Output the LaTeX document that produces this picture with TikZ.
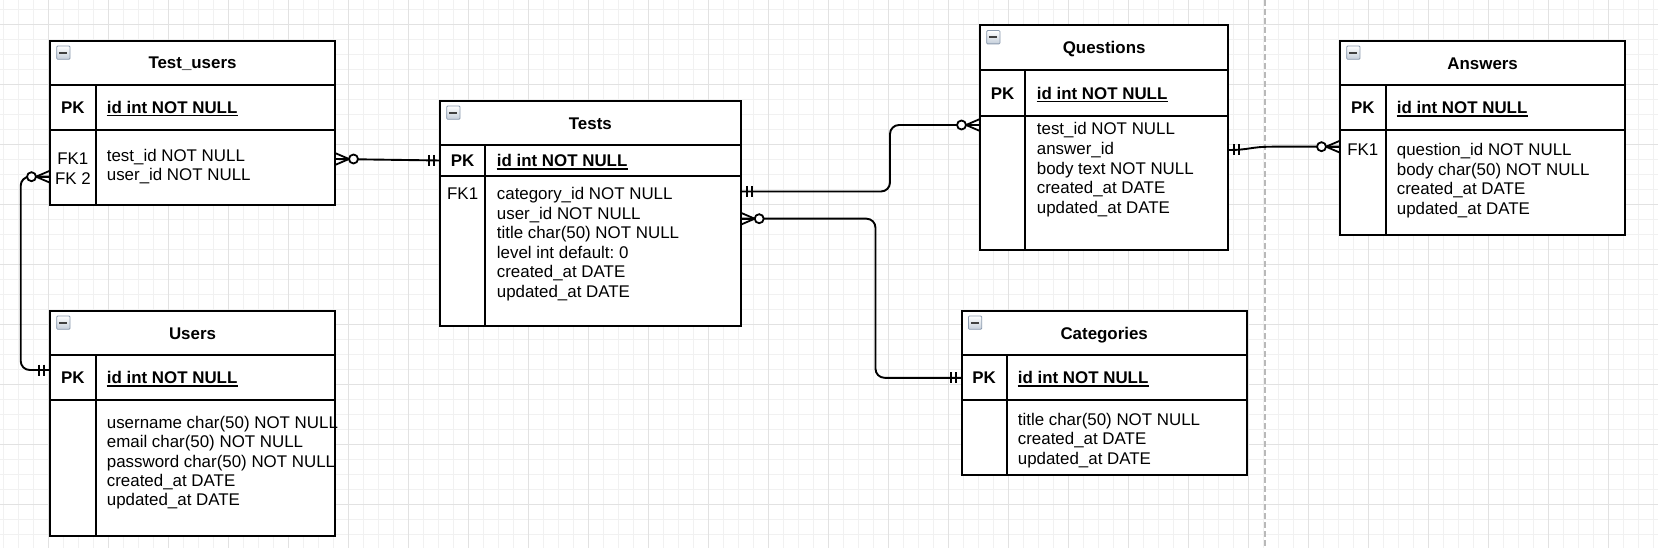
\documentclass[tikz,border=0pt]{standalone}
\usepackage{fontspec}
\setmainfont{Liberation Sans}
\usetikzlibrary{calc}
\frenchspacing
\definecolor{gridminor}{RGB}{241,241,241}
\definecolor{gridmajor}{RGB}{226,226,226}
\definecolor{sepgray}{RGB}{185,185,185}
\definecolor{iconedge}{RGB}{140,155,175}
\definecolor{iconbot}{RGB}{196,206,218}
\newcommand\ff{\fontsize{16.9}{20}\selectfont\frenchspacing}
\tikzset{
  minorgrid/.style={draw=gridminor, line width=1.2pt},
  majorgrid/.style={draw=gridmajor, line width=1.4pt},
  sepdash/.style={draw=sepgray, line width=1.5pt, dash pattern=on 6pt off 3pt},
  tblfill/.style={rectangle, fill=white, draw=none, inner sep=0pt, outer sep=0pt, anchor=north west},
  tline/.style={draw=black, line width=1.8pt},
  ttl/.style={font=\ff\bfseries, anchor=base, inner sep=0pt},
  pklbl/.style={font=\ff\bfseries, anchor=base, inner sep=0pt},
  pkfld/.style={font=\ff\bfseries, anchor=base west, inner sep=0pt},
  fklbl/.style={font=\ff, anchor=base, inner sep=0pt},
  fld/.style={font=\ff, anchor=base west, inner sep=0pt},
  uline/.style={draw=black, line width=1.3pt},
  conn/.style={draw=black, line width=1.9pt, rounded corners=9pt, line join=round},
  mkline/.style={draw=black, line width=1.8pt},
  iconbox/.style={draw=iconedge, line width=0.8pt, top color=white, bottom color=iconbot}
}
% table background node
\newcommand\erbg[5]{%
  \node[tblfill, minimum width={(#4-#2)*1pt}, minimum height={(#5-#3)*1pt}] (#1) at (#2,#3) {};
  \shade[iconbox, rounded corners=1pt] (#2+6.7,#3+5.3) rectangle ++(13.3,13.3);
  \fill[black!75] (#2+9,#3+11) rectangle ++(8.4,1.9);
}
% table lines: L T R B H1 H2 D
\newcommand\erlines[7]{%
  \draw[tline] (#1,#2) rectangle (#3,#4);
  \draw[tline] (#1,#5) -- (#3,#5);
  \draw[tline] (#1,#6) -- (#3,#6);
  \draw[tline] (#7,#5) -- (#7,#4);
}
% primary key row: name, pk-x, id-x, baseline
\newcommand\erpk[4]{%
  \node[pklbl] (#1-pk) at (#2,#4) {PK};
  \node[pkfld] (#1-id) at (#3,#4) {id int NOT NULL};
  \draw[uline] ([yshift=-2.2pt]#1-id.base west) -- ([yshift=-2.2pt]#1-id.base east);
}
% fields: name, x, y0, dy, list
\newcommand\erfields[5]{%
  \foreach \t [count=\i] in {#5} {
    \node[fld] (#1-f\i) at (#2,{#3+(\i-1)*#4}) {\t};
  }
}
% markers
\newcommand\zeromany[2]{%
  \begin{scope}[shift={(#1)}, xscale=#2]
    \draw[mkline] (0,-6) -- (14,0) -- (0,6);
    \draw[mkline] (0,0) -- (14,0);
    \draw[mkline, fill=white] (18.5,0) circle (4.5);
  \end{scope}
}
\newcommand\onlyone[2]{%
  \begin{scope}[shift={(#1)}, xscale=#2]
    \draw[mkline] (6,-5.5) -- (6,5.5);
    \draw[mkline] (11,-5.5) -- (11,5.5);
  \end{scope}
}
\begin{document}
\begin{tikzpicture}[x=1pt,y=-1pt]
\useasboundingbox (0,0) rectangle (1658,548);
\fill[white] (0,0) rectangle (1658,548);
% grid
\foreach \x in {3.3,18.3,...,1660} { \draw[minorgrid] (\x,0) -- (\x,548); }
\foreach \y in {9.3,24.3,...,550} { \draw[minorgrid] (0,\y) -- (1658,\y); }
\foreach \x in {48.3,108.3,...,1660} { \draw[majorgrid] (\x,0) -- (\x,548); }
\foreach \y in {24.3,84.3,...,550} { \draw[majorgrid] (0,\y) -- (1658,\y); }
\draw[sepdash] (1265,0) -- (1265,548);

% backgrounds
\erbg{tu}{50}{40.7}{335}{205}
\erbg{us}{50}{310.7}{335}{535.7}
\erbg{te}{440}{100.7}{740.7}{325.7}
\erbg{qu}{980}{25.3}{1228.3}{250}
\erbg{an}{1340}{40.7}{1625.3}{235}
\erbg{ca}{961.7}{310.7}{1246.7}{475}

% Test_users
\node[ttl] (tu-title) at (192.5,68.9) {Test\_users};
\erpk{tu}{72.85}{106.7}{113.6}
\node[fklbl] (tu-fk1) at (72.85,165) {FK1};
\node[fklbl] (tu-fk2) at (72.85,184.3) {FK 2};
\erfields{tu}{106.7}{161.3}{19.2}{test\_id NOT NULL,user\_id NOT NULL}

% Users
\node[ttl] (us-title) at (192.5,339) {Users};
\erpk{us}{72.85}{106.7}{383.7}
\erfields{us}{106.7}{428.3}{19.4}{username char(50) NOT NULL,email char(50) NOT NULL,password char(50) NOT NULL,created\_at DATE,updated\_at DATE}

% Tests
\node[ttl] (te-title) at (590.35,129.1) {Tests};
\erpk{te}{462.65}{496.7}{166.7}
\node[fklbl] (te-fk1) at (462.65,200) {FK1};
\erfields{te}{496.7}{200}{19.5}{category\_id NOT NULL,user\_id NOT NULL,title char(50) NOT NULL,level int default: 0,created\_at DATE,updated\_at DATE}

% Questions
\node[ttl] (qu-title) at (1104.15,53.9) {Questions};
\erpk{qu}{1002.65}{1036.7}{99.2}
\erfields{qu}{1036.7}{135}{19.6}{test\_id NOT NULL,answer\_id,body text NOT NULL,created\_at DATE,updated\_at DATE}

% Answers
\node[ttl] (an-title) at (1482.65,69.1) {Answers};
\erpk{an}{1362.85}{1396.7}{113.9}
\node[fklbl] (an-fk1) at (1362.85,155.3) {FK1};
\erfields{an}{1396.7}{156}{19.5}{question\_id NOT NULL,body char(50) NOT NULL,created\_at DATE,updated\_at DATE}

% Categories
\node[ttl] (ca-title) at (1104.2,339.1) {Categories};
\erpk{ca}{984.2}{1017.7}{383.9}
\erfields{ca}{1017.7}{425}{19.5}{title char(50) NOT NULL,created\_at DATE,updated\_at DATE}

% table lines
\erlines{50}{40.7}{335}{205}{85}{130}{95.7}
\erlines{50}{310.7}{335}{535.7}{355.3}{400}{95.7}
\erlines{440}{100.7}{740.7}{325.7}{145.3}{176}{485.3}
\erlines{980}{25.3}{1228.3}{250}{70.3}{116}{1025.3}
\erlines{1340}{40.7}{1625.3}{235}{85.3}{130.3}{1385.7}
\erlines{961.7}{310.7}{1246.7}{475}{355.3}{400.3}{1006.7}

% connector end points
\coordinate (tuR) at (335,159);
\coordinate (teL) at (440,160.5);
\coordinate (tuL) at (50,176.7);
\coordinate (usL) at (50,370);
\coordinate (teR1) at (740.7,191.5);
\coordinate (quL) at (980,125);
\coordinate (teR2) at (740.7,218.7);
\coordinate (caL) at (961.7,377.8);
\coordinate (quR) at (1228.3,150);
\coordinate (anL) at (1340,146.7);
\coordinate (anBend) at (1272,146.7);

% connectors
\draw[conn] (tuR) -- (teL);
\draw[conn] (tuL) -- ++(-29.3,0) |- (usL);
\draw[conn] (teR1) -- ++(149.3,0) |- (quL);
\draw[conn] (teR2) -- ++(134.8,0) |- (caL);
\draw[conn, sharp corners] (quR) .. controls (1250,150) and (1250,146.7) .. (anBend) -- (anL);

% markers
\zeromany{tuR}{1}
\onlyone{teL}{-1}
\zeromany{tuL}{-1}
\onlyone{usL}{-1}
\onlyone{teR1}{1}
\zeromany{quL}{-1}
\zeromany{teR2}{1}
\onlyone{caL}{-1}
\onlyone{quR}{1}
\zeromany{anL}{-1}
\end{tikzpicture}
\end{document}
